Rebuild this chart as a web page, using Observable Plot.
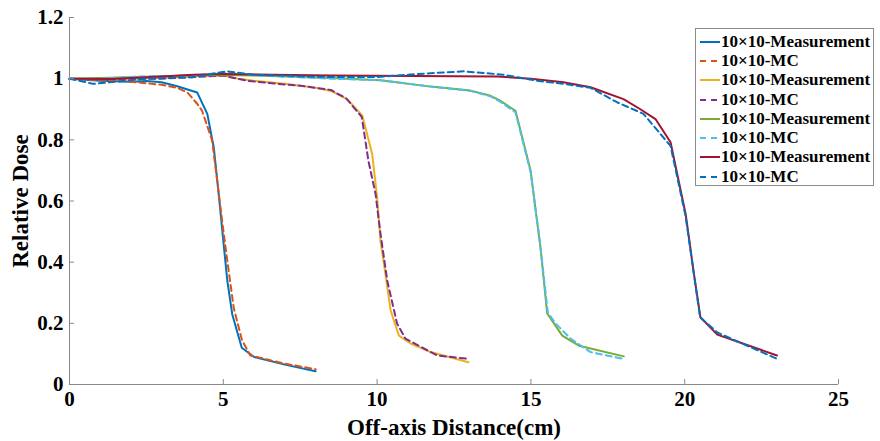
<!DOCTYPE html>
<html><head><meta charset="utf-8">
<script src="https://cdn.jsdelivr.net/npm/d3@7"></script>
<script src="https://cdn.jsdelivr.net/npm/@observablehq/plot@0.6"></script>
<style>
body{margin:0;background:#fff;}
#wrap{position:relative;width:880px;height:441px;font-family:"Liberation Serif","Times New Roman",serif;font-weight:bold;}
#wrap svg text{font-size:21px;}
#wrap svg g[aria-label="x-axis label"] text, #wrap svg g[aria-label="y-axis label"] text{font-size:23px;}
#legend{position:absolute;left:695px;top:28px;width:179px;height:158px;border:1px solid #8c8c8c;background:#fff;box-sizing:border-box;padding-top:3px;}
.li{height:19.3px;display:flex;align-items:center;font-size:17px;color:#000;white-space:nowrap;}
.li svg{margin-left:4px;margin-right:1px;}
</style></head>
<body><div id="wrap"></div>
<script>
const xTicks = [0,5,10,15,20,25];
const yTicks = [0,0.2,0.4,0.6,0.8,1.0,1.2];
const seriesNames = ["10×10-Measurement","10×10-MC","10×10-Measurement","10×10-MC","10×10-Measurement","10×10-MC","10×10-Measurement","10×10-MC"];
const seriesColors = ["#0072BD","#D95319","#EDB120","#7E2F8E","#77AC30","#4DBEEE","#A2142F","#0072BD"];
const seriesDashed = [false,true,false,true,false,true,false,true];

const meas5 = [[0,1.0],[1,0.993],[2,0.99],[2.5,0.992],[3,0.988],[3.5,0.975],[4.15,0.955],[4.48,0.885],[4.69,0.775],[4.85,0.623],[5.0,0.47],[5.13,0.34],[5.29,0.23],[5.6,0.12],[6.0,0.09],[7.0,0.065],[8.0,0.043]];
const mc5 = [[0,1.0],[1,0.995],[2,0.99],[3,0.98],[3.5,0.97],[3.83,0.955],[4.15,0.918],[4.31,0.895],[4.64,0.797],[4.8,0.667],[4.96,0.536],[5.13,0.405],[5.34,0.25],[5.61,0.144],[5.88,0.095],[6.5,0.08],[7.0,0.068],[8.0,0.05]];
const meas10 = [[0,1.0],[1,1.0],[2,1.0],[3,1.003],[4,1.008],[5,1.01],[5.5,1.0],[6,0.993],[7,0.983],[7.5,0.977],[8,0.97],[8.5,0.96],[9.03,0.933],[9.52,0.879],[9.84,0.754],[10.0,0.612],[10.11,0.47],[10.27,0.362],[10.44,0.242],[10.71,0.16],[11.09,0.134],[11.74,0.106],[12.97,0.073]];
const mc10 = [[0,1.0],[1,0.998],[2,1.0],[3,1.0],[4,1.005],[5,1.01],[5.78,0.993],[6.75,0.983],[7.5,0.977],[8.5,0.963],[9.0,0.935],[9.5,0.875],[9.72,0.73],[9.95,0.623],[10.11,0.493],[10.33,0.34],[10.65,0.199],[10.92,0.15],[11.95,0.095],[12.96,0.084]];
const meas15 = [[0,1.0],[2,1.005],[4,1.01],[5,1.012],[6,1.01],[8.5,1.002],[10.1,0.995],[11.74,0.974],[13.04,0.961],[13.69,0.944],[14.0,0.928],[14.5,0.895],[14.99,0.70],[15.1,0.612],[15.31,0.449],[15.53,0.232],[16.02,0.16],[16.56,0.127],[18.02,0.092]];
const mc15 = [[0,1.0],[1,1.0],[2.2,1.007],[4,1.01],[5,1.02],[6,1.012],[8.5,1.0],[10.1,0.995],[11.74,0.974],[13.04,0.96],[13.69,0.942],[14.0,0.925],[14.5,0.89],[15.0,0.69],[15.3,0.46],[15.55,0.235],[15.8,0.2],[16.29,0.15],[16.94,0.106],[18.0,0.084]];
const meas20 = [[0,1.0],[1.33,0.999],[2.5,1.005],[4.04,1.013],[5,1.015],[8.49,1.01],[13.9,1.007],[15,1.0],[16.06,0.988],[16.94,0.972],[18.01,0.933],[18.56,0.90],[19.05,0.868],[19.54,0.792],[20.03,0.558],[20.3,0.362],[20.51,0.22],[21.06,0.163],[23.0,0.095]];
const mc20 = [[0,1.0],[0.78,0.983],[1.5,0.99],[2.5,1.0],[4,1.005],[5.13,1.024],[6,1.013],[8,1.006],[10,1.005],[10.98,1.013],[12.81,1.024],[14.1,1.013],[15.2,0.993],[16.07,0.983],[16.94,0.97],[17.8,0.923],[18.66,0.885],[19.54,0.78],[20.03,0.55],[20.3,0.36],[20.5,0.22],[21.06,0.17],[23.0,0.084]];

const allSeries = [meas5, mc5, meas10, mc10, meas15, mc15, meas20, mc20];
const fmt = d => String(+d.toFixed(1));

const lineMarks = allSeries.map((s, i) => Plot.line(s, {
  x: d => d[0], y: d => d[1],
  stroke: seriesColors[i], strokeWidth: 2,
  strokeDasharray: seriesDashed[i] ? "6,4" : null
}));

const chart = Plot.plot({
  width: 880, height: 441,
  marginLeft: 69, marginRight: 42, marginTop: 17, marginBottom: 57,
  style: {fontFamily: "'Liberation Serif','Times New Roman',serif", fontWeight: "bold", color: "#000", background: "#fff"},
  x: {domain: [0, 25]},
  y: {domain: [0, 1.2]},
  marks: [
    ...lineMarks,
    Plot.axisX(xTicks, {tickSize: -5, tickPadding: 12, stroke: "#888", fill: "#000", label: "Off-axis Distance(cm)", labelAnchor: "center", labelOffset: 50, labelArrow: "none", tickFormat: fmt}),
    Plot.axisY(yTicks, {tickSize: -5, tickPadding: 11, stroke: "#888", fill: "#000", label: "Relative Dose", labelAnchor: "center", labelOffset: 58, labelArrow: "none", tickFormat: fmt}),
    Plot.ruleY([0], {stroke: "#888"}),
    Plot.ruleX([0], {stroke: "#888"})
  ]
});
const wrap = document.getElementById("wrap");
wrap.appendChild(chart);

const leg = document.createElement("div");
leg.id = "legend";
seriesNames.forEach((n, i) => {
  const row = document.createElement("div");
  row.className = "li";
  row.innerHTML = `<svg width="20" height="6"><line x1="0" y1="3" x2="20" y2="3" stroke="${seriesColors[i]}" stroke-width="2" ${seriesDashed[i] ? 'stroke-dasharray="6,5"' : ''}/></svg><span>${n}</span>`;
  leg.appendChild(row);
});
wrap.appendChild(leg);
</script>
</body></html>
